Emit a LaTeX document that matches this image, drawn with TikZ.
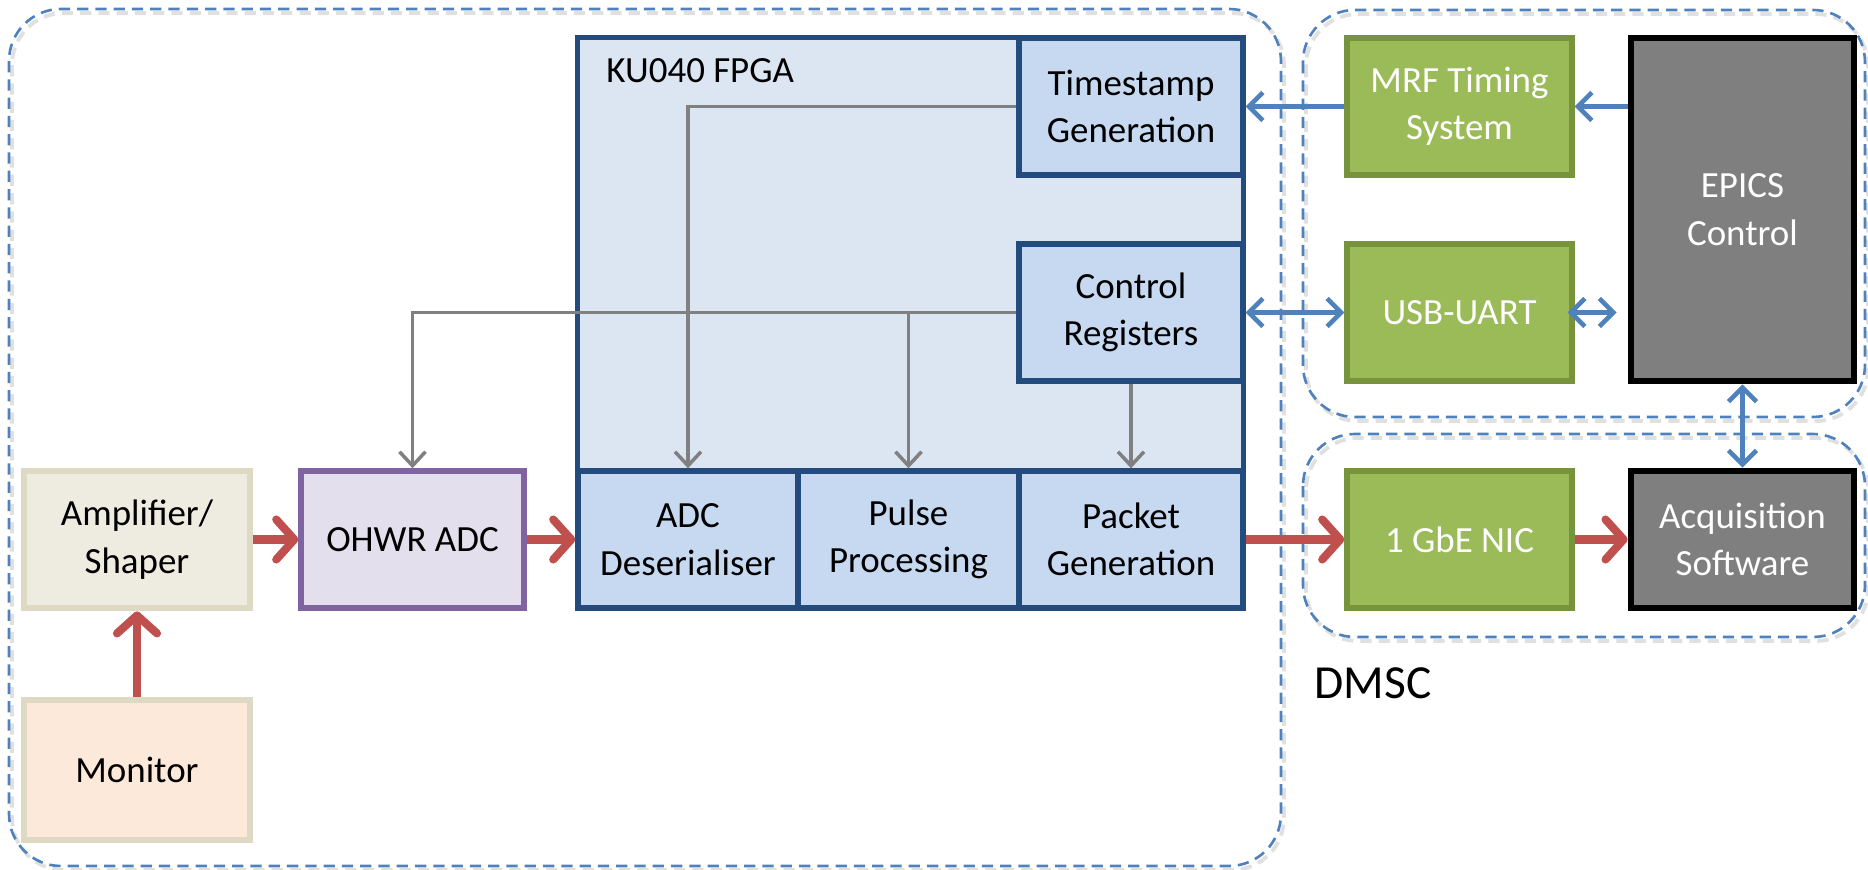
\documentclass[tikz,border=0pt]{standalone}
\usepackage{fontspec}
\setmainfont{Carlito}
\usetikzlibrary{arrows.meta}
\definecolor{grpline}{HTML}{4F81BD}
\definecolor{fpgaline}{HTML}{234B7E}
\definecolor{fpgafill}{HTML}{DCE6F2}
\definecolor{fpgain}{HTML}{C6D9F1}
\definecolor{ampline}{HTML}{DDD9C3}
\definecolor{ampfill}{HTML}{EEECE1}
\definecolor{monfill}{HTML}{FDE9D9}
\definecolor{adcline}{HTML}{8064A2}
\definecolor{adcfill}{HTML}{E4DFEC}
\definecolor{grnline}{HTML}{77933C}
\definecolor{grnfill}{HTML}{9BBB59}
\definecolor{gryfill}{HTML}{7F7F7F}
\definecolor{arrred}{HTML}{C0504D}
\definecolor{arrgray}{HTML}{808080}
\begin{document}
\begin{tikzpicture}[x=0.01cm, y=-0.01cm,
    txt/.style={font=\fontsize{10.5}{13.5}\selectfont},
    blk/.style={txt, draw, line width=1.5pt, minimum width=2.24cm, minimum height=1.37cm, align=center, inner sep=0pt},
    fpgab/.style={blk, draw=fpgaline, fill=fpgain},
    ampb/.style={blk, draw=ampline, fill=ampfill, line width=1.9pt},
    monb/.style={ampb, fill=monfill, minimum height=1.40cm},
    adcb/.style={blk, draw=adcline, fill=adcfill, minimum width=2.23cm},
    grn/.style={blk, draw=grnline, fill=grnfill, text=white, minimum width=2.25cm},
    gry/.style={blk, draw=black, fill=gryfill, text=white, line width=1.9pt, minimum width=2.23cm},
    grp/.style={draw=grpline, line width=0.75pt, dash pattern=on 3.2pt off 2pt, rounded corners=0.52cm},
    grpshd/.style={grp, draw=black!12, line width=1.1pt},
    garr/.style={draw=arrgray, line width=1pt, -{Straight Barb[length=1.4mm, width=2.6mm]}},
    btip/.tip={Straight Barb[length=1.4mm, width=2.8mm]},
    barr/.style={draw=grpline, line width=1.3pt, -btip},
    barr2/.style={draw=grpline, line width=1.3pt, btip-btip},
    rarr/.style={draw=arrred, line width=2.3pt, -{Straight Barb[length=1.8mm, width=4mm, round]}}]
    \useasboundingbox (0,0) rectangle (1868,870);
    \draw[grpshd] (12,13) rectangle (1284,870);
    \draw[grpshd] (1306,14) rectangle (1868,421);
    \draw[grpshd] (1306,438) rectangle (1868,641);
    \draw[grp] (9,9) rectangle (1281,866);
    \draw[grp] (1303,10) rectangle (1865,417);
    \draw[grp] (1303,434) rectangle (1865,637);
    \node[fpgab, fill=fpgafill, minimum width=6.65cm, minimum height=5.70cm] (fpga) at (910.5,323) {};
    \node[txt, anchor=west] (fpgalbl) at (594,71) {KU040 FPGA};
    \node[fpgab] (ts) at (1131,106.5) {Timestamp\\Generation};
    \node[fpgab] (cr) at (1131,312.5) {Control\\Registers};
    \node[fpgab, minimum width=2.20cm] (adc) at (688,539.5) {ADC\\Deserialiser};
    \node[fpgab, minimum width=2.21cm] (pp) at (908.5,539.5) {Pulse\\Processing};
    \node[fpgab] (pg) at (1131,539.5) {Packet\\Generation};
    \node[ampb, minimum width=2.26cm] (amp) at (137,539.5) {Amplifier/\\Shaper};
    \node[monb, minimum width=2.26cm] (mon) at (137,770) {Monitor};
    \node[adcb] (ohwr) at (412.5,539.5) {OHWR ADC};
    \node[grn] (mrf) at (1459.5,106.5) {MRF Timing\\System};
    \node[grn] (usb) at (1459.5,312.5) {USB-UART};
    \node[grn] (nic) at (1459.5,539.5) {1 GbE NIC};
    \node[gry, minimum height=3.43cm] (epics) at (1742.5,209.5) {EPICS\\Control};
    \node[gry] (acq) at (1742.5,539.5) {Acquisition\\Software};
    \node[anchor=west, font=\fontsize{13.5}{16}\selectfont] (dmsc) at (1302,683) {DMSC};
    \draw[garr] (ts.west) -| (adc.north);
    \draw[garr] (cr.west) -| (ohwr.north);
    \draw[garr] (pp.north |- cr.west) -- (pp.north);
    \draw[garr] (cr.south) -- (pg.north);
    \draw[barr] (mrf.west) -- (ts.east);
    \draw[barr] (epics.west |- mrf.east) -- (mrf.east);
    \draw[barr2] (usb.west) -- (cr.east);
    \draw[barr2, shorten <=-0.07cm, shorten >=0.11cm] (usb.east) -- (epics.west |- usb.east);
    \draw[barr2] (epics.south) -- (acq.north);
    \draw[rarr] (amp.east) -- (ohwr.west);
    \draw[rarr] (ohwr.east) -- (adc.west);
    \draw[rarr] (pg.east) -- (nic.west);
    \draw[rarr] (nic.east) -- (acq.west);
    \draw[rarr] (mon.north) -- (amp.south);
\end{tikzpicture}
\end{document}
